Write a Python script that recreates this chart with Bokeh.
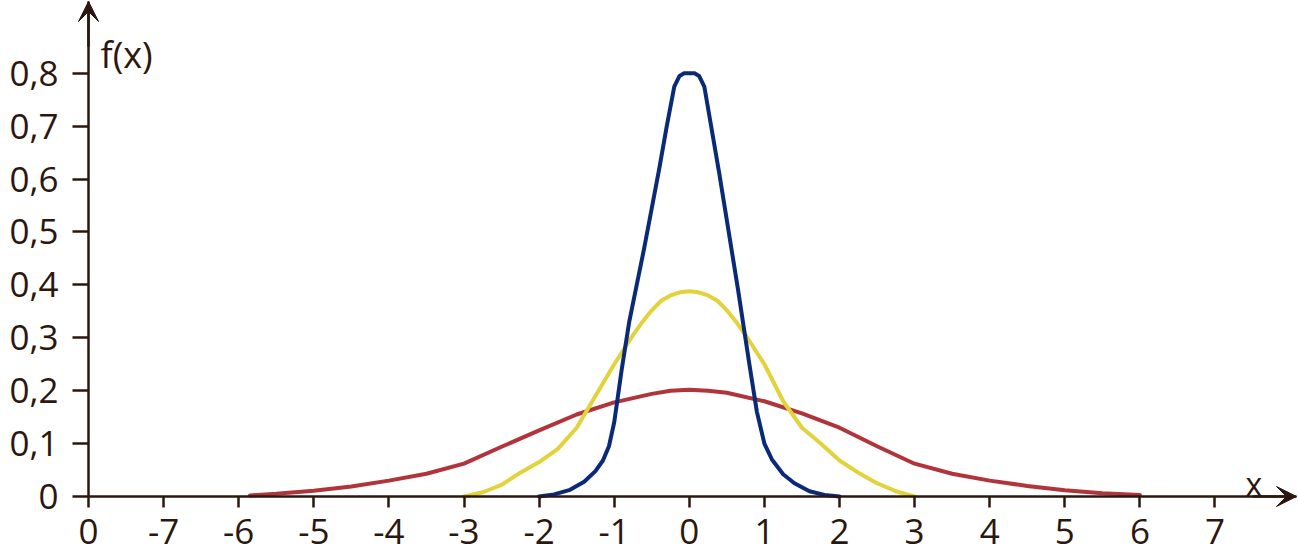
from bokeh.plotting import figure
from bokeh.models import FixedTicker, Arrow, VeeHead, Label, Range1d, LinearAxis
from bokeh.embed import file_html
from bokeh.resources import INLINE

# ---- data ----
blue_x = [-2.0, -1.8, -1.6, -1.4, -1.25, -1.15, -1.07, -1.0, -0.9, -0.8, -0.6, -0.4, -0.3, -0.2,
          -0.13, -0.07, 0.0, 0.07, 0.13, 0.2, 0.4, 0.65, 0.8, 0.9, 1.0, 1.1, 1.25, 1.4, 1.6, 1.8, 2.0]
blue_y = [0.0, 0.004, 0.012, 0.028, 0.048, 0.068, 0.095, 0.14, 0.24, 0.33, 0.47, 0.62, 0.70, 0.775,
          0.795, 0.80, 0.80, 0.80, 0.795, 0.775, 0.61, 0.39, 0.25, 0.16, 0.10, 0.07, 0.042, 0.025, 0.01, 0.003, 0.0]

yellow_x = [-3.0, -2.75, -2.5, -2.25, -2.0, -1.75, -1.5, -1.25, -1.0, -0.75, -0.625, -0.5, -0.375, -0.25,
            -0.125, 0.0, 0.125, 0.25, 0.375, 0.5, 0.625, 0.75, 1.0, 1.25, 1.5, 1.75, 2.0, 2.25, 2.5, 2.75, 3.0]
yellow_y = [0.0, 0.008, 0.022, 0.045, 0.065, 0.09, 0.13, 0.19, 0.25, 0.305, 0.33, 0.352, 0.37, 0.38,
            0.386, 0.388, 0.386, 0.38, 0.37, 0.352, 0.33, 0.305, 0.25, 0.18, 0.13, 0.10, 0.068, 0.045, 0.025, 0.01, 0.0]

red_x = [-5.85, -5.5, -5.0, -4.5, -4.0, -3.5, -3.0, -2.5, -2.0, -1.5, -1.0, -0.5, -0.25, 0.0,
         0.25, 0.5, 1.0, 1.5, 2.0, 2.5, 3.0, 3.5, 4.0, 4.5, 5.0, 5.5, 6.0]
red_y = [0.002, 0.005, 0.011, 0.019, 0.03, 0.043, 0.062, 0.094, 0.125, 0.155, 0.178, 0.194, 0.2, 0.202,
         0.2, 0.196, 0.18, 0.157, 0.13, 0.095, 0.062, 0.043, 0.03, 0.02, 0.012, 0.006, 0.003]

x_ticks = [-8, -7, -6, -5, -4, -3, -2, -1, 0, 1, 2, 3, 4, 5, 6, 7]
x_tick_labels = ["0", "-7", "-6", "-5", "-4", "-3", "-2", "-1", "0", "1", "2", "3", "4", "5", "6", "7"]
y_ticks = [0.0, 0.1, 0.2, 0.3, 0.4, 0.5, 0.6, 0.7, 0.8]
y_tick_labels = ["0", "0,1", "0,2", "0,3", "0,4", "0,5", "0,6", "0,7", "0,8"]

AX = "#2b170e"
FONT = "Open Sans"
X_MIN, X_TIP = -8, 8.085
Y_TIP = 0.9357

p = figure(width=1298, height=560, output_backend="svg", toolbar_location=None,
           x_range=Range1d(-9.1718, 8.1119), y_range=Range1d(-0.121, 0.9376),
           x_axis_type=None, y_axis_type=None,
           min_border_left=0, min_border_bottom=0, min_border_top=0, min_border_right=0)
p.outline_line_color = None
p.grid.visible = False
p.background_fill_color = "white"
p.border_fill_color = "white"

xaxis = LinearAxis(fixed_location=0, bounds=(X_MIN, X_TIP))
yaxis = LinearAxis(fixed_location=X_MIN, bounds=(0, Y_TIP))
p.add_layout(xaxis, "below")
p.add_layout(yaxis, "left")

for ax in (xaxis, yaxis):
    ax.axis_line_color = AX
    ax.axis_line_width = 2.5
    ax.major_tick_line_color = AX
    ax.major_tick_line_width = 2.5
    ax.minor_tick_line_color = None
    ax.major_tick_in = 0
    ax.major_label_text_font = FONT
    ax.major_label_text_font_size = "35px"
    ax.major_label_text_color = AX

xaxis.ticker = FixedTicker(ticks=x_ticks)
xaxis.major_label_overrides = {t: l for t, l in zip(x_ticks, x_tick_labels)}
xaxis.major_tick_out = 11
xaxis.major_label_standoff = 12

yaxis.ticker = FixedTicker(ticks=y_ticks)
yaxis.major_label_overrides = {t: l for t, l in zip(y_ticks, y_tick_labels)}
yaxis.major_tick_out = 16
yaxis.major_label_standoff = 14

p.line(red_x, red_y, line_color="#b1343a", line_width=4, line_join="round", line_cap="round")
p.line(yellow_x, yellow_y, line_color="#e2d33c", line_width=4, line_join="round", line_cap="round")
p.line(blue_x, blue_y, line_color="#0a2a78", line_width=4, line_join="round", line_cap="round")

p.add_layout(Arrow(end=VeeHead(size=20, fill_color=AX, line_color=AX),
                   x_start=7.5, y_start=0, x_end=X_TIP, y_end=0,
                   line_color=AX, line_width=2.5))
p.add_layout(Arrow(end=VeeHead(size=20, fill_color=AX, line_color=AX),
                   x_start=X_MIN, y_start=0.85, x_end=X_MIN, y_end=Y_TIP,
                   line_color=AX, line_width=2.5))

p.add_layout(Label(x=-7.84, y=0.836, text="f(x)", text_font=FONT, text_font_size="36px",
                   text_color=AX, text_baseline="alphabetic"))
p.add_layout(Label(x=7.406, y=0.0246, text="x", text_font=FONT, text_font_size="32px",
                   text_color=AX, text_baseline="alphabetic"))

open("out.html", "w").write(file_html(p, INLINE))
